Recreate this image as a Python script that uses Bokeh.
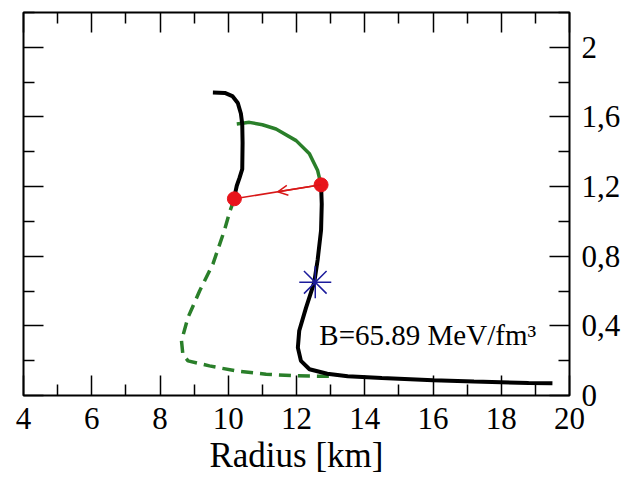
from bokeh.plotting import figure
from bokeh.models import (Range1d, LinearAxis, FixedTicker, CustomJSTickFormatter,
                          CustomLabelingPolicy, Label, Arrow, OpenHead)
from bokeh.embed import file_html
from bokeh.resources import INLINE

# ---- data ----
upper_x = [9.55, 9.9, 10.12, 10.28, 10.37, 10.41, 10.42, 10.41, 10.33, 10.25, 10.2, 10.18]
upper_y = [1.74, 1.738, 1.72, 1.68, 1.62, 1.56, 1.45, 1.30, 1.25, 1.205, 1.16, 1.13]

lower_x = [12.72, 12.74, 12.72, 12.62, 12.52, 12.28, 12.08, 12.04, 12.13, 12.38, 12.9, 13.5, 14.5, 16.0, 17.2, 18.8, 19.5]
lower_y = [1.21, 1.10, 0.95, 0.78, 0.65, 0.505, 0.372, 0.275, 0.199, 0.151, 0.125, 0.11, 0.10, 0.088, 0.08, 0.072, 0.07]

arc_x = [10.25, 10.62, 11.0, 11.4, 11.99, 12.38, 12.62, 12.72]
arc_y = [1.56, 1.569, 1.555, 1.531, 1.464, 1.388, 1.292, 1.21]

dash_x = [10.18, 10.05, 9.89, 9.55, 9.16, 8.82, 8.63, 8.67, 8.82, 9.45, 10.23, 11.11, 11.99, 12.95]
dash_y = [1.13, 1.06, 0.95, 0.755, 0.60, 0.448, 0.314, 0.237, 0.199, 0.17, 0.141, 0.122, 0.113, 0.11]

dot_x = [10.18, 12.72]
dot_y = [1.13, 1.21]

star_x = [12.55]
star_y = [0.65]

x_ticks = [4, 6, 8, 10, 12, 14, 16, 18, 20]
x_minor = [5, 7, 9, 11, 13, 15, 17, 19]
y_ticks = [0, 0.4, 0.8, 1.2, 1.6, 2.0]
y_minor = [0.2, 0.6, 1.0, 1.4, 1.8, 2.2]

x_title = "Radius [km]"
note_text = "B=65.89 MeV/fm³"
note_x, note_y = 12.67, 0.345

SERIF = "Liberation Serif"

p = figure(width=626, height=477, output_backend="svg", toolbar_location=None,
           x_range=Range1d(4, 20), y_range=Range1d(0, 2.2),
           x_axis_location=None, y_axis_location=None)
p.min_border_left = 23
p.min_border_right = 57
p.min_border_top = 12
p.min_border_bottom = 82
p.outline_line_color = "black"
p.outline_line_width = 2
p.grid.visible = False
p.background_fill_color = "white"
p.border_fill_color = "white"

xt = FixedTicker(ticks=x_ticks, minor_ticks=x_minor)
yt = FixedTicker(ticks=y_ticks, minor_ticks=y_minor)
yfmt = CustomJSTickFormatter(code="return tick.toFixed(1).replace('.0','').replace('.',',');")
no_labels = CustomLabelingPolicy(code="return new Set();")


def style(ax, show_labels):
    ax.axis_line_color = None
    ax.major_tick_in = 20
    ax.major_tick_out = 0
    ax.minor_tick_in = 11
    ax.minor_tick_out = 0
    ax.major_tick_line_color = "black"
    ax.minor_tick_line_color = "black"
    ax.major_tick_line_width = 1.5
    ax.minor_tick_line_width = 1.5
    if show_labels:
        ax.major_label_text_font = SERIF
        ax.major_label_text_font_size = "31px"
        ax.major_label_text_color = "black"
    else:
        ax.major_label_policy = no_labels
        ax.major_label_standoff = 0


bottom = LinearAxis(ticker=xt, axis_label=x_title)
style(bottom, True)
bottom.major_label_standoff = 12
bottom.axis_label_text_font = SERIF
bottom.axis_label_text_font_style = "normal"
bottom.axis_label_text_font_size = "35px"
bottom.axis_label_text_color = "black"
bottom.axis_label_standoff = 4
p.add_layout(bottom, "below")

top = LinearAxis(ticker=xt)
style(top, False)
p.add_layout(top, "above")

left = LinearAxis(ticker=yt)
style(left, False)
p.add_layout(left, "left")

right = LinearAxis(ticker=yt, formatter=yfmt)
style(right, True)
right.major_label_standoff = 12
right.major_label_orientation = "horizontal"
p.add_layout(right, "right")

# curves
p.line(dash_x, dash_y, line_color="#2a7f2a", line_width=3.5, line_dash="12 7")
p.line(arc_x, arc_y, line_color="#2a7f2a", line_width=3.5)
p.line(upper_x, upper_y, line_color="black", line_width=4)
p.line(lower_x, lower_y, line_color="black", line_width=4)

# red transition line with arrow
p.line(dot_x, dot_y, line_color="#d81818", line_width=1.5)
mid_x = (dot_x[0] + dot_x[1]) / 2
mid_y = (dot_y[0] + dot_y[1]) / 2
p.add_layout(Arrow(end=OpenHead(size=10, line_color="#d81818", line_width=1.5),
                   x_start=dot_x[1], y_start=dot_y[1], x_end=mid_x, y_end=mid_y,
                   line_color="#d81818", line_width=1.5))
p.scatter(dot_x, dot_y, marker="circle", size=14, fill_color="#e8141b", line_color="#e8141b")

p.scatter(star_x, star_y, marker="asterisk", size=32, angle=1.5708,
          line_color="#1c1c9c", line_width=1.5)

p.add_layout(Label(x=note_x, y=note_y, text=note_text, text_font=SERIF,
                   text_font_size="29px", text_color="black", text_baseline="alphabetic"))

open("out.html", "w").write(file_html(p, INLINE))
